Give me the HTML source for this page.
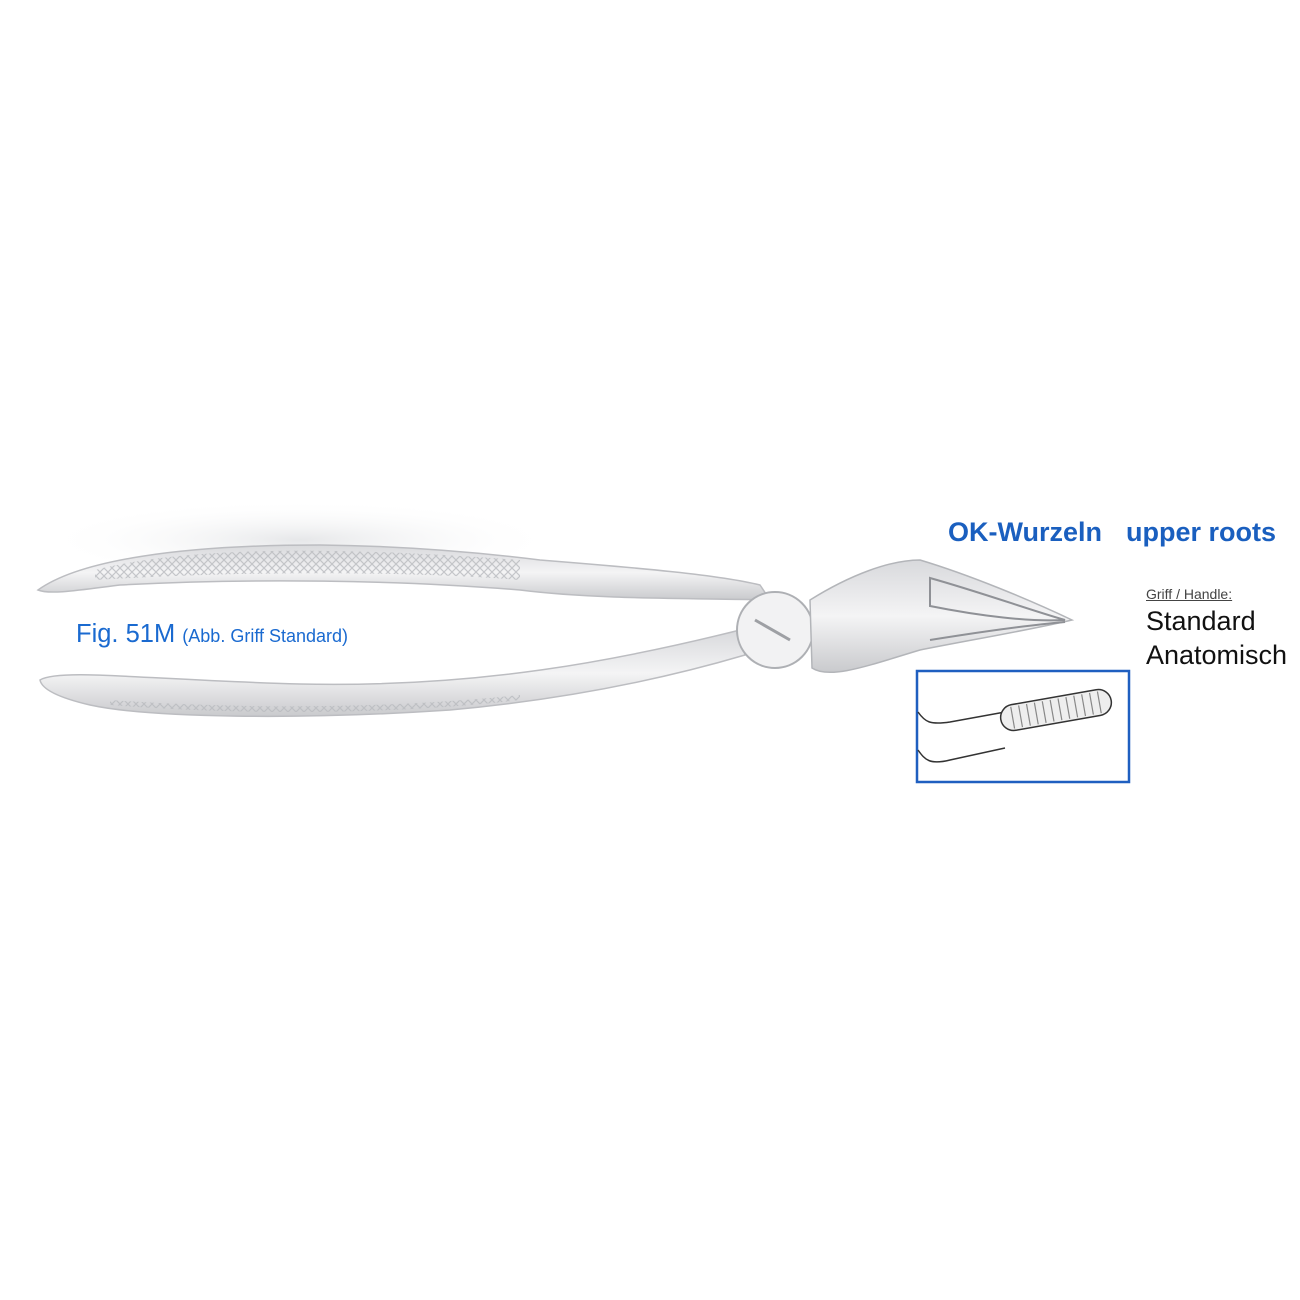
<!DOCTYPE html>
<html><head><meta charset="utf-8">
<style>
body{margin:0;width:1300px;height:1300px;background:#fff;position:relative;overflow:hidden;font-family:"Liberation Sans",sans-serif}
.t{position:absolute;white-space:nowrap}
</style></head><body>
<svg width="1300" height="1300" style="position:absolute;left:0;top:0">
<defs>
<linearGradient id="m" x1="0" y1="0" x2="0" y2="1">
<stop offset="0" stop-color="#d8d9dc"/><stop offset="0.5" stop-color="#f4f4f5"/><stop offset="1" stop-color="#c9cacd"/>
</linearGradient>
<pattern id="x" width="8" height="8" patternUnits="userSpaceOnUse">
<path d="M0 0L8 8M8 0L0 8" stroke="#b9bbbf" stroke-width="1.2"/>
</pattern>
<radialGradient id="sh" cx="0.5" cy="0.5" r="0.5"><stop offset="0" stop-color="#e6e7e9"/><stop offset="1" stop-color="#fff" stop-opacity="0"/></radialGradient>
</defs>
<ellipse cx="300" cy="540" rx="260" ry="40" fill="url(#sh)"/>
<path d="M38 590 C80 560 180 545 320 545 C420 546 500 555 540 560 C640 568 720 575 760 585 L770 600 C700 598 600 600 520 590 C400 580 250 578 120 585 C80 590 50 595 38 590Z" fill="url(#m)" stroke="#bcbdc1" stroke-width="1.5"/>
<path d="M95 570 C180 548 320 545 520 560 L520 580 C420 572 260 570 95 580Z" fill="url(#x)" opacity="0.8"/>
<path d="M40 680 C60 668 150 680 300 684 C480 688 620 660 740 630 L745 655 C660 680 560 700 450 710 C300 720 150 718 90 705 C60 698 42 690 40 680Z" fill="url(#m)" stroke="#bcbdc1" stroke-width="1.5"/>
<path d="M110 705 C250 716 400 714 520 700 L520 695 C400 708 250 710 110 700Z" fill="url(#x)" opacity="0.8"/>
<circle cx="775" cy="630" r="38" fill="#f2f2f3" stroke="#aeb0b4" stroke-width="2"/>
<line x1="755" y1="620" x2="790" y2="640" stroke="#9ea0a4" stroke-width="3"/>
<path d="M810 600 C850 575 890 560 920 560 C970 575 1030 600 1072 620 C1030 630 970 640 920 650 C870 665 830 680 812 668Z" fill="url(#m)" stroke="#b3b5b9" stroke-width="1.5"/>
<path d="M930 578 C980 592 1030 610 1065 620 C1030 622 980 616 930 606Z" fill="none" stroke="#8f9196" stroke-width="2"/>
<path d="M930 640 C980 632 1030 625 1065 622" fill="none" stroke="#8f9196" stroke-width="2"/>
<rect x="917" y="671" width="212" height="111" fill="#fff" stroke="#1f5fc0" stroke-width="2.5"/>
<path d="M918 712 C925 722 930 725 950 722 L1005 712" fill="none" stroke="#333" stroke-width="1.5"/>
<path d="M918 750 C925 760 930 765 950 760 L1005 748" fill="none" stroke="#333" stroke-width="1.5"/>
<rect x="1000" y="697" width="112" height="26" rx="13" transform="rotate(-10 1056 710)" fill="#eee" stroke="#333" stroke-width="1.5"/>
<g stroke="#888" stroke-width="1.2" transform="rotate(-10 1056 710)">
<line x1="1012" y1="699" x2="1012" y2="721"/><line x1="1020" y1="699" x2="1020" y2="721"/><line x1="1028" y1="699" x2="1028" y2="721"/><line x1="1036" y1="699" x2="1036" y2="721"/><line x1="1044" y1="699" x2="1044" y2="721"/><line x1="1052" y1="699" x2="1052" y2="721"/><line x1="1060" y1="699" x2="1060" y2="721"/><line x1="1068" y1="699" x2="1068" y2="721"/><line x1="1076" y1="699" x2="1076" y2="721"/><line x1="1084" y1="699" x2="1084" y2="721"/><line x1="1092" y1="699" x2="1092" y2="721"/><line x1="1100" y1="699" x2="1100" y2="721"/>
</g>
</svg>
<div class="t" style="left:948px;top:517px;font-size:27px;font-weight:bold;color:#1a5fbf">OK-Wurzeln</div>
<div class="t" style="left:1126px;top:517px;font-size:27px;font-weight:bold;color:#1a5fbf">upper roots</div>
<div class="t" style="left:1146px;top:586px;font-size:14px;color:#444;text-decoration:underline">Griff / Handle:</div>
<div class="t" style="left:1146px;top:606px;font-size:27px;color:#111">Standard</div>
<div class="t" style="left:1146px;top:640px;font-size:27px;color:#111">Anatomisch</div>
<div class="t" style="left:76px;top:620px;font-size:25.5px;color:#1a6ad0">Fig. 51M <span style="font-size:18px">(Abb. Griff Standard)</span></div>
</body></html>
